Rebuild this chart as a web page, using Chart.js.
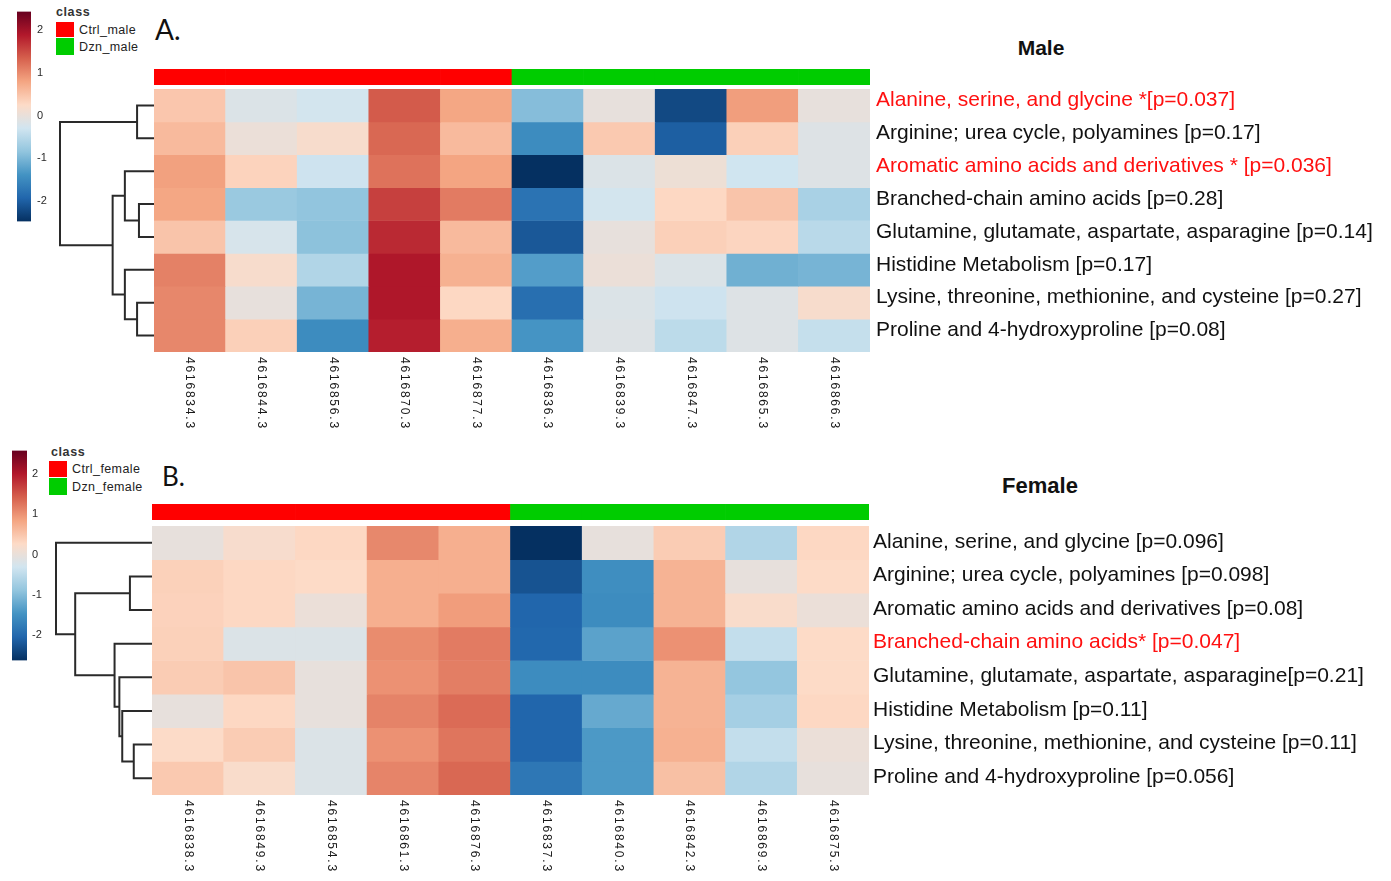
<!DOCTYPE html>
<html>
<head>
<meta charset="utf-8">
<title>Amino acid pathway heatmaps</title>
<script src="https://cdn.jsdelivr.net/npm/chart.js@4.4.1/dist/chart.umd.min.js"></script>
<style>
  html, body { margin: 0; padding: 0; background: #fff; }
  body { width: 1391px; height: 881px; position: relative; overflow: hidden;
         font-family: "Liberation Sans", Arial, sans-serif; color: #111; }
  canvas { position: absolute; }
  .txt { position: absolute; white-space: nowrap; line-height: 1; transform: translateY(-50%); }
  .panel-tag { font-family: Lato, "Open Sans", sans-serif; color: #111; }
  .title { font-weight: bold; transform: translate(-50%, -50%); }
  .cls-head { font-weight: bold; font-size: 12.5px; color: #333; letter-spacing: 0.6px; }
  .cls-item { font-size: 12.5px; color: #222; letter-spacing: 0.4px; }
  .swatch { position: absolute; }
</style>
</head>
<body>

<div class="txt panel-tag" style="left:155px; top:29px; font-size:28px;">A.</div>
<div class="txt title" style="left:1041px; top:47px; font-size:21px;">Male</div>
<div class="txt cls-head" style="left:56px; top:12px;">class</div>
<div class="swatch" style="left:56px; top:22px; width:18px; height:15px; background:#FF0000;"></div>
<div class="swatch" style="left:56px; top:38px; width:18px; height:17px; background:#00CC00;"></div>
<div class="txt cls-item" style="left:79px; top:30px;">Ctrl_male</div>
<div class="txt cls-item" style="left:79px; top:47px;">Dzn_male</div>

<div class="txt panel-tag" style="left:162px; top:476px; font-size:26px;">B.</div>
<div class="txt title" style="left:1040px; top:486px; font-size:22px;">Female</div>
<div class="txt cls-head" style="left:51px; top:452px;">class</div>
<div class="swatch" style="left:49px; top:461px; width:18px; height:16px; background:#FF0000;"></div>
<div class="txt cls-item" style="left:72px; top:469px;">Ctrl_female</div>
<div class="swatch" style="left:49px; top:478px; width:18px; height:17px; background:#00CC00;"></div>
<div class="txt cls-item" style="left:72px; top:487px;">Dzn_female</div>

<script>
// ---------------- data: male panel ----------------
const maleSamples = ['4616834.3', '4616844.3', '4616856.3', '4616870.3', '4616877.3',
                     '4616836.3', '4616839.3', '4616847.3', '4616865.3', '4616866.3'];
const maleGroups = ['Ctrl_male', 'Ctrl_male', 'Ctrl_male', 'Ctrl_male', 'Ctrl_male',
                    'Dzn_male', 'Dzn_male', 'Dzn_male', 'Dzn_male', 'Dzn_male'];
const malePathways = [
  'Alanine, serine, and glycine *[p=0.037]',
  'Arginine; urea cycle, polyamines [p=0.17]',
  'Aromatic amino acids and derivatives * [p=0.036]',
  'Branched-chain amino acids [p=0.28]',
  'Glutamine, glutamate, aspartate, asparagine [p=0.14]',
  'Histidine Metabolism [p=0.17]',
  'Lysine, threonine, methionine, and cysteine [p=0.27]',
  'Proline and 4-hydroxyproline [p=0.08]'
];
const maleSignificant = [true, false, true, false, false, false, false, false];
// z-scores, one row per pathway, one value per sample
const maleZ = [
  [0.48, -0.15, -0.25, 1.40, 0.80, -0.90,  0.00, -2.20,  0.87,  0.00],
  [0.60,  0.05,  0.20, 1.30, 0.60, -1.45,  0.45, -1.98,  0.38, -0.12],
  [0.85,  0.35, -0.30, 1.22, 0.82, -2.45, -0.15,  0.08, -0.28, -0.12],
  [0.80, -0.75, -0.82, 1.60, 1.15, -1.75, -0.25,  0.30,  0.50, -0.62],
  [0.50, -0.20, -0.85, 1.78, 0.60, -2.05,  0.00,  0.38,  0.33, -0.48],
  [1.10,  0.20, -0.55, 1.93, 0.70, -1.25,  0.05, -0.15, -1.05, -1.00],
  [1.05,  0.00, -1.00, 1.93, 0.30, -1.80, -0.15, -0.30, -0.12,  0.20],
  [1.05,  0.38, -1.45, 1.86, 0.72, -1.35, -0.12, -0.45, -0.12, -0.38]
];
// hierarchical clustering of the pathways: [childA, childB, height]
// leaves are 0..7, the k-th merge creates node 8 + k
const maleMerges = [
  [0, 1, 0.18],
  [3, 4, 0.16],
  [2, 9, 0.31],
  [6, 7, 0.18],
  [5, 11, 0.31],
  [10, 12, 0.44],
  [8, 13, 1.00]
];
const maleScaleLimit = 2.45;

// ---------------- data: female panel ----------------
const femaleSamples = ['4616838.3', '4616849.3', '4616854.3', '4616861.3', '4616876.3',
                       '4616837.3', '4616840.3', '4616842.3', '4616869.3', '4616875.3'];
const femaleGroups = ['Ctrl_female', 'Ctrl_female', 'Ctrl_female', 'Ctrl_female', 'Ctrl_female',
                      'Dzn_female', 'Dzn_female', 'Dzn_female', 'Dzn_female', 'Dzn_female'];
const femalePathways = [
  'Alanine, serine, and glycine [p=0.096]',
  'Arginine; urea cycle, polyamines [p=0.098]',
  'Aromatic amino acids and derivatives [p=0.08]',
  'Branched-chain amino acids* [p=0.047]',
  'Glutamine, glutamate, aspartate, asparagine[p=0.21]',
  'Histidine Metabolism [p=0.11]',
  'Lysine, threonine, methionine, and cysteine [p=0.11]',
  'Proline and 4-hydroxyproline [p=0.056]'
];
const femaleSignificant = [false, false, false, true, false, false, false, false];
const femaleZ = [
  [0.00, 0.21,  0.32, 1.11, 0.76, -2.60,  0.00, 0.45, -0.58, 0.32],
  [0.40, 0.32,  0.29, 0.76, 0.76, -2.23, -1.51, 0.72,  0.00, 0.29],
  [0.38, 0.32,  0.05, 0.76, 0.93, -2.02, -1.54, 0.72,  0.23, 0.05],
  [0.40, -0.16, -0.16, 1.08, 1.22, -2.00, -1.27, 1.03, -0.42, 0.29],
  [0.45, 0.53,  0.00, 1.03, 1.19, -1.54, -1.54, 0.72, -0.85, 0.29],
  [0.00, 0.32,  0.00, 1.15, 1.35, -2.02, -1.19, 0.72, -0.69, 0.32],
  [0.27, 0.45, -0.16, 1.03, 1.27, -2.02, -1.38, 0.74, -0.42, 0.05],
  [0.48, 0.23, -0.16, 1.14, 1.38, -1.80, -1.38, 0.58, -0.58, 0.00]
];
const femaleMerges = [
  [6, 7, 0.19],
  [5, 8, 0.31],
  [4, 9, 0.34],
  [3, 10, 0.39],
  [1, 2, 0.23],
  [12, 11, 0.80],
  [0, 13, 1.00]
];
const femaleScaleLimit = 2.6;

const colorBarTicks = [-2, -1, 0, 1, 2];

// ---------------- styling ----------------
const RDBU = ['#053061', '#2166AC', '#4393C3', '#92C5DE', '#D1E5F0',
              '#FDDBC7', '#F4A582', '#D6604D', '#B2182B', '#67001F'];
const GROUP_COLORS = { Ctrl: '#FF0000', Dzn: '#00CC00' };
const SIG_RED = '#FF1010';
const TREE_COLOR = '#2a2a2a';

const RDBU_RGB = RDBU.map(h => [1, 3, 5].map(i => parseInt(h.slice(i, i + 2), 16)));
function zColor(v, lim) {
  let t = (v + lim) / (2 * lim);
  t = Math.max(0, Math.min(1, t));
  const p = t * (RDBU.length - 1);
  const i = Math.min(Math.floor(p), RDBU.length - 2);
  const f = p - i;
  const a = RDBU_RGB[i], b = RDBU_RGB[i + 1];
  return 'rgb(' + a.map((c, k) => Math.round(c + (b[k] - c) * f)).join(',') + ')';
}
function groupColor(g) { return g.startsWith('Ctrl') ? GROUP_COLORS.Ctrl : GROUP_COLORS.Dzn; }

Chart.defaults.font.family = '"Liberation Sans", Arial, sans-serif';
Chart.defaults.animation = false;
Chart.defaults.responsive = false;
Chart.defaults.devicePixelRatio = 1;
Chart.defaults.events = [];
Chart.defaults.plugins.legend.display = false;
Chart.defaults.plugins.tooltip.enabled = false;

function makeCanvas(left, top, w, h) {
  const c = document.createElement('canvas');
  c.width = w; c.height = h;
  c.style.left = left + 'px'; c.style.top = top + 'px';
  c.style.width = w + 'px'; c.style.height = h + 'px';
  document.body.appendChild(c);
  return c;
}

// sample names written downward under each heatmap column
const columnLabels = {
  id: 'columnLabels',
  afterDraw(chart, args, opts) {
    const { ctx, chartArea } = chart;
    const xs = chart.scales.x;
    ctx.save();
    ctx.font = '12px "Liberation Sans", Arial, sans-serif';
    ctx.fillStyle = '#1a1a1a';
    if ('letterSpacing' in ctx) ctx.letterSpacing = '1.8px';
    ctx.textAlign = 'left';
    ctx.textBaseline = 'middle';
    chart.data.labels.forEach((lab, i) => {
      ctx.save();
      ctx.translate(xs.getPixelForValue(i), chartArea.bottom + opts.gap);
      ctx.rotate(Math.PI / 2);
      ctx.fillText(lab, 0, 0);
      ctx.restore();
    });
    ctx.restore();
  }
};

function drawPanel(p) {
  const g = p.geo;
  const nRows = p.pathways.length;

  // ---- colour key ----
  const cb = g.colorBar;
  const cbAxis = 35;
  new Chart(makeCanvas(cb.left - 5, cb.top - 8, (cb.right - cb.left) + 5 + cbAxis, (cb.bottom - cb.top) + 16), {
    type: 'bar',
    data: {
      labels: ['z'],
      datasets: [{
        data: [[-p.limit, p.limit]],
        barPercentage: 1, categoryPercentage: 1, borderWidth: 0,
        backgroundColor: (c) => {
          const ys = c.chart.scales.y;
          if (!ys || !c.chart.chartArea) return RDBU[5];
          const y0 = ys.getPixelForValue(-p.limit), y1 = ys.getPixelForValue(p.limit);
          if (!Number.isFinite(y0) || !Number.isFinite(y1)) return RDBU[5];
          const grad = c.chart.ctx.createLinearGradient(0, y0, 0, y1);
          RDBU.forEach((col, i) => grad.addColorStop(i / (RDBU.length - 1), col));
          return grad;
        }
      }]
    },
    options: {
      layout: { padding: { left: 5, top: 8, bottom: 8, right: 0 } },
      scales: {
        x: { display: false },
        y: {
          type: 'linear', min: -p.limit, max: p.limit, position: 'right',
          grid: { display: false, drawTicks: false }, border: { display: false },
          afterBuildTicks: s => { s.ticks = colorBarTicks.map(v => ({ value: v })); },
          afterFit: s => { s.width = cbAxis; },
          ticks: { padding: g.colorBarPad, labelOffset: -1, color: '#2a2a2a', font: { size: 11 }, callback: v => String(v) }
        }
      }
    }
  });

  // ---- class bar ----
  const cl = g.classBar;
  new Chart(makeCanvas(cl.left, cl.top, cl.right - cl.left, cl.bottom - cl.top), {
    type: 'bar',
    data: {
      labels: p.samples,
      datasets: [{
        data: p.samples.map(() => 1),
        backgroundColor: p.groups.map(groupColor),
        barPercentage: 1, categoryPercentage: 1, borderWidth: 0
      }]
    },
    options: {
      layout: { padding: 0 },
      scales: { x: { display: false }, y: { display: false, min: 0, max: 1 } }
    }
  });

  // ---- dendrogram ----
  const h = g.heat, d = g.tree;
  const nodes = [];
  for (let i = 0; i < nRows; i++) nodes.push({ h: 0, y: i + 0.5 });
  const treeSets = p.merges.map(([a, b, ht]) => {
    const A = nodes[a], B = nodes[b];
    nodes.push({ h: ht, y: (A.y + B.y) / 2 });
    return {
      data: [{ x: A.h, y: A.y }, { x: ht, y: A.y }, { x: ht, y: B.y }, { x: B.h, y: B.y }],
      showLine: true, pointRadius: 0, borderColor: TREE_COLOR, borderWidth: 2,
      tension: 0, clip: false, borderJoinStyle: 'miter', borderCapStyle: 'butt'
    };
  });
  const rootHeight = Math.max(...p.merges.map(m => m[2]));
  new Chart(makeCanvas(d.left - 10, h.top - 10, (d.right - d.left) + 20, (h.bottom - h.top) + 20), {
    type: 'scatter',
    data: { datasets: treeSets },
    options: {
      layout: { padding: 10 },
      scales: {
        x: { type: 'linear', display: false, min: 0, max: rootHeight, reverse: true },
        y: { type: 'linear', display: false, min: 0, max: nRows, reverse: true }
      }
    }
  });

  // ---- heatmap ----
  const labelArea = 1391 - h.right;
  const rowSets = p.z.map((row, r) => ({
    data: row.map(() => [r, r + 1]),
    backgroundColor: row.map(v => zColor(v, p.limit)),
    barPercentage: 1, categoryPercentage: 1, borderWidth: 0, grouped: false
  }));
  new Chart(makeCanvas(h.left, h.top - 20, 1391 - h.left, (h.bottom - h.top) + 20 + 85), {
    type: 'bar',
    data: { labels: p.samples, datasets: rowSets },
    options: {
      layout: { padding: { top: 20, bottom: 85, left: 0, right: 0 } },
      scales: {
        x: { type: 'category', display: false },
        y: {
          type: 'linear', min: 0, max: nRows, reverse: true, position: 'right',
          grid: { display: false, drawTicks: false }, border: { display: false },
          afterBuildTicks: s => { s.ticks = p.pathways.map((_, i) => ({ value: i + 0.5 })); },
          afterFit: s => { s.width = labelArea; },
          ticks: {
            autoSkip: false, padding: g.rowLabelPad, labelOffset: g.rowLabelShift,
            font: { size: 21 },
            color: c => (p.significant[c.index] ? SIG_RED : '#111'),
            callback: (v, i) => p.pathways[i]
          }
        }
      },
      plugins: { columnLabels: { gap: 5 } }
    },
    plugins: [columnLabels]
  });
}

drawPanel({
  samples: maleSamples, groups: maleGroups, pathways: malePathways,
  significant: maleSignificant, z: maleZ, merges: maleMerges, limit: maleScaleLimit,
  geo: {
    colorBar: { left: 17, right: 31, top: 7, bottom: 226 }, colorBarPad: 6,
    classBar: { left: 154, right: 870, top: 69, bottom: 85 },
    heat: { left: 154, right: 870, top: 89, bottom: 352 },
    tree: { left: 60, right: 154 },
    rowLabelPad: 6, rowLabelShift: -5
  }
});

drawPanel({
  samples: femaleSamples, groups: femaleGroups, pathways: femalePathways,
  significant: femaleSignificant, z: femaleZ, merges: femaleMerges, limit: femaleScaleLimit,
  geo: {
    colorBar: { left: 12, right: 27, top: 447, bottom: 664 }, colorBarPad: 5,
    classBar: { left: 152, right: 869, top: 504, bottom: 520 },
    heat: { left: 152, right: 869, top: 526, bottom: 795 },
    tree: { left: 56, right: 152 },
    rowLabelPad: 4, rowLabelShift: -1
  }
});
</script>
</body>
</html>
